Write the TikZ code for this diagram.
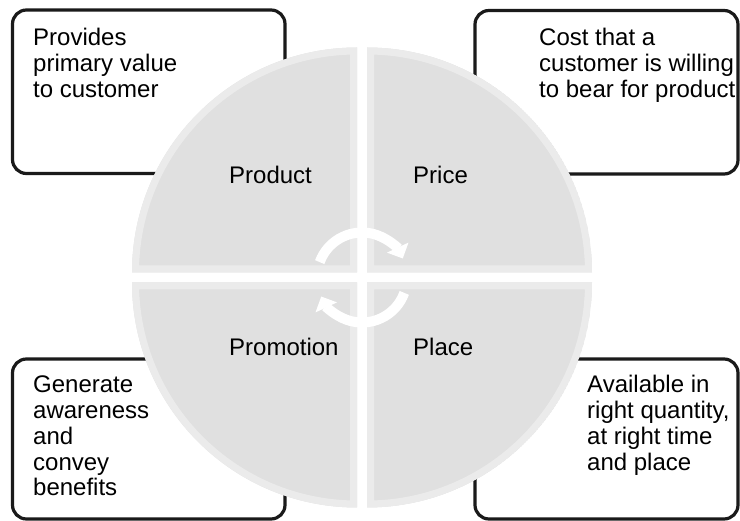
\documentclass[tikz,border=0pt]{standalone}
\usepackage{fontspec}
\setmainfont{Liberation Sans}
\usepackage{tikz}
\usetikzlibrary{arrows.meta}

\definecolor{quadfill}{HTML}{E0E0E0}
\definecolor{quadedge}{HTML}{EBEBEB}
\definecolor{boxline}{HTML}{1A1A1A}

\tikzset{
    infobox/.style={draw=boxline, line width=3.2pt, rounded corners=14pt, fill=white},
    infotext/.style={anchor=base west, inner sep=0pt, align=left, font=\fontsize{24}{25.75}\selectfont},
    quadlabel/.style={anchor=base west, inner sep=0pt, font=\fontsize{24}{25.75}\selectfont},
    cyclearrow/.style={white, line width=10pt, -{Triangle[width=23pt,length=12pt]}}
}

\begin{document}
\begin{tikzpicture}[x=1pt,y=-1pt]
            \useasboundingbox (0,0) rectangle (740,521);
            % corner boxes (behind the circle)
            \draw[infobox]  (12.5,10) rectangle (285,173.5);
            \draw[infobox]  (475,10.5) rectangle (738,174);
            \draw[infobox]  (12.5,359) rectangle (285,519);
            \draw[infobox]  (475,359) rectangle (738,519);
            % base anchor sits on the last line
            \node[infotext] (productnote) at (33,97.2) {Provides\\primary value\\to customer};
            \node[infotext] (pricenote) at (539,97.2) {Cost that a\\customer is willing\\to bear for product};
            \node[infotext] (promotionnote) at (33,496) {Generate\\awareness\\and\\convey\\benefits};
            \node[infotext] (placenote) at (587,470.2) {Available in\\right quantity,\\at right time\\and place};

            % quadrants
            \begin{scope}
                \clip (357,272.5) -- ++(180:225) arc[start angle=180, end angle=270, radius=225] -- cycle;
                \fill[quadfill] (357,272.5) -- ++(180:225) arc[start angle=180, end angle=270, radius=225] -- cycle;
                \draw[quadedge, line width=14pt] (357,272.5) -- ++(180:225) arc[start angle=180, end angle=270, radius=225] -- cycle;
            \end{scope}
            \begin{scope}
                \clip (367,272.5) -- ++(270:225) arc[start angle=270, end angle=360, radius=225] -- cycle;
                \fill[quadfill] (367,272.5) -- ++(270:225) arc[start angle=270, end angle=360, radius=225] -- cycle;
                \draw[quadedge, line width=14pt] (367,272.5) -- ++(270:225) arc[start angle=270, end angle=360, radius=225] -- cycle;
            \end{scope}
            \begin{scope}
                \clip (367,282.5) -- ++(0:225) arc[start angle=0, end angle=90, radius=225] -- cycle;
                \fill[quadfill] (367,282.5) -- ++(0:225) arc[start angle=0, end angle=90, radius=225] -- cycle;
                \draw[quadedge, line width=14pt] (367,282.5) -- ++(0:225) arc[start angle=0, end angle=90, radius=225] -- cycle;
            \end{scope}
            \begin{scope}
                \clip (357,282.5) -- ++(90:225) arc[start angle=90, end angle=180, radius=225] -- cycle;
                \fill[quadfill] (357,282.5) -- ++(90:225) arc[start angle=90, end angle=180, radius=225] -- cycle;
                \draw[quadedge, line width=14pt] (357,282.5) -- ++(90:225) arc[start angle=90, end angle=180, radius=225] -- cycle;
            \end{scope}

            % cycle arrows
            \coordinate (hub) at (362,277.5);
            \draw[cyclearrow] ([shift={(200:45)}]hub) arc[start angle=200, end angle=335, radius=45];
            \draw[cyclearrow] ([shift={(20:45)}]hub) arc[start angle=20, end angle=155, radius=45];

            % quadrant labels
            \node[quadlabel] (product) at (229,184) {Product};
            \node[quadlabel] (price) at (413,184) {Price};
            \node[quadlabel] (promotion) at (229,356) {Promotion};
            \node[quadlabel] (place) at (413,356) {Place};
        \end{tikzpicture}
\end{document}
